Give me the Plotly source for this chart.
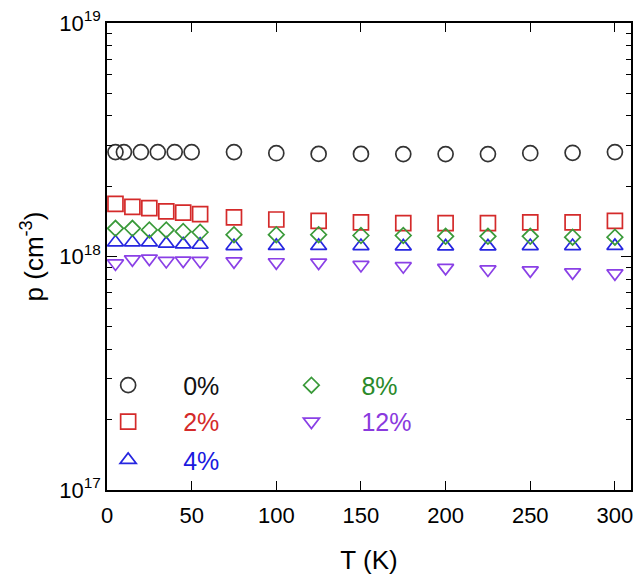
import plotly.graph_objects as go

# ---- data (carrier concentration p, units of 1e18 cm^-3) ----
T_0 = [5, 10, 20, 30, 40, 50, 75, 100, 125, 150, 175, 200, 225, 250, 275, 300]
T_x = [5, 15, 25, 35, 45, 55, 75, 100, 125, 150, 175, 200, 225, 250, 275, 300]

p_0 = [2.80, 2.80, 2.80, 2.80, 2.80, 2.80, 2.80, 2.77, 2.75, 2.75, 2.745, 2.745, 2.745, 2.77, 2.78, 2.80]
p_2 = [1.68, 1.63, 1.61, 1.56, 1.54, 1.52, 1.47, 1.44, 1.42, 1.40, 1.39, 1.39, 1.39, 1.40, 1.40, 1.42]
p_4 = [1.15, 1.15, 1.15, 1.135, 1.127, 1.123, 1.108, 1.11, 1.11, 1.108, 1.105, 1.105, 1.105, 1.108, 1.108, 1.11]
p_8 = [1.32, 1.32, 1.30, 1.30, 1.28, 1.27, 1.24, 1.24, 1.24, 1.23, 1.23, 1.22, 1.22, 1.22, 1.21, 1.21]
p_12 = [0.934, 0.973, 0.980, 0.957, 0.961, 0.957, 0.954, 0.945, 0.942, 0.920, 0.909, 0.894, 0.880, 0.872, 0.855, 0.847]

labels = ["0%", "2%", "4%", "8%", "12%"]
x_ticks = [0, 50, 100, 150, 200, 250, 300]
y_ticks = [1e17, 1e18, 1e19]
y_ticktext = ["10<sup>17</sup>", "10<sup>18</sup>", "10<sup>19</sup>"]
y_minor = [k * 1e17 for k in range(2, 10)] + [k * 1e18 for k in range(2, 10)]

FONT = "Liberation Sans, Arial, sans-serif"

series = [
    (T_0, p_0, labels[0], "circle-open", "#333333", "#111111", 15, "legend", 100, -0.0646, 0.224),
    (T_x, p_2, labels[1], "square-open", "#d42a2a", "#d42a2a", 15, "legend2", 100, -0.0646, 0.146),
    (T_x, p_4, labels[2], "triangle-up-open", "#2626e0", "#1a1adf", 14, "legend3", 100, -0.0646, 0.064),
    (T_x, p_8, labels[3], "diamond-open", "#3a9a3a", "#2a8a2a", 12, "legend4", 90, 0.2947, 0.224),
    (T_x, p_12, labels[4], "triangle-down-open", "#8a40e6", "#8a3ade", 14, "legend5", 90, 0.2947, 0.146),
]

fig = go.Figure()
layout_legends = {}
for T, p, name, sym, col, tcol, size, lg, iw, lx, ly in series:
    fig.add_trace(go.Scatter(
        x=T, y=[v * 1e18 for v in p], mode="markers", name=name,
        marker=dict(symbol=sym, size=size, color=col, line=dict(color=col, width=1.7)),
        legend=lg, showlegend=True,
    ))
    layout_legends[lg] = dict(
        visible=True,
        x=lx, y=ly, xanchor="left", yanchor="middle", xref="paper", yref="paper",
        bgcolor="rgba(0,0,0,0)", borderwidth=0, itemwidth=iw,
        font=dict(family=FONT, size=25, color=tcol),
    )

fig.update_layout(
    width=640, height=581,
    margin=dict(l=107, r=7, t=21, b=91),
    paper_bgcolor="white", plot_bgcolor="white",
    font=dict(family=FONT, size=22, color="black"),
    showlegend=True,
    **layout_legends,
)

fig.update_xaxes(
    range=[0, 309.5], tickmode="array", tickvals=x_ticks,
    ticks="inside", ticklen=9, tickwidth=1.2, tickcolor="black",
    showline=True, linecolor="black", linewidth=1.5, mirror="ticks",
    showgrid=False, zeroline=False, ticklabelstandoff=5,
    tickfont=dict(family=FONT, size=22, color="black"),
    title=dict(text="T (K)", font=dict(family=FONT, size=26, color="black"), standoff=24),
)
fig.update_yaxes(
    type="log", range=[17, 19], tickmode="array", tickvals=y_ticks, ticktext=y_ticktext,
    ticks="inside", ticklen=10, tickwidth=1.2, tickcolor="black",
    minor=dict(tickmode="array", tickvals=y_minor, ticks="inside", ticklen=5,
               tickwidth=1.2, tickcolor="black", showgrid=False),
    showline=True, linecolor="black", linewidth=1.5, mirror="ticks",
    showgrid=False, zeroline=False,
    tickfont=dict(family=FONT, size=22, color="black"),
    title=dict(text="p (cm<sup>-3</sup>)", font=dict(family=FONT, size=26, color="black"), standoff=8),
)

fig.write_html("out.html")
